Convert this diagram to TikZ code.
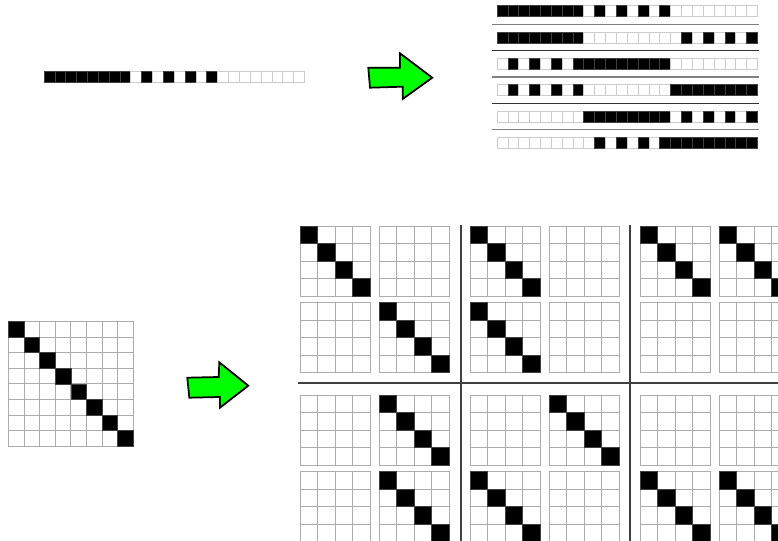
\documentclass[tikz,border=0pt]{standalone}
\usepackage{tikz}

\tikzset{
  bitcell/.style={draw=gray!40, line width=0.5pt},
  gridcell/.style={draw=gray!65, line width=0.7pt},
  blackcell/.style={fill=black, draw=black!75, line width=0.5pt},
  bigarrow/.style={fill=green, draw=black, line width=1.3pt, line join=miter},
  sepline/.style={draw=black!75, line width=0.8pt},
}

% one bar of 24 bits, three blocks: 0 = all set, 1 = every other bit, 2 = none
\newcommand{\bitbar}[5]{%
  \foreach \k/\code in {0/#3,1/#4,2/#5}{%
    \foreach \i in {0,...,7}{%
      \pgfmathtruncatemacro{\on}{(\code==0)||((\code==1)&&isodd(\i))}%
      \ifnum\on=1
        \filldraw[blackcell] ({#1+(8*\k+\i)*10.85},#2) rectangle ++(10.85,11);
      \else
        \draw[bitcell] ({#1+(8*\k+\i)*10.85},#2) rectangle ++(10.85,11);
      \fi
    }%
  }%
}

% n x n grid, identity (#5=1) or zero (#5=0)
\newcommand{\idmat}[5]{%
  \foreach \row in {1,...,#3}{\foreach \col in {1,...,#3}{%
    \draw[gridcell] ({#1+(\col-1)*#4},{#2+(\row-1)*#4}) rectangle ++(#4,#4);}}%
  \ifnum#5=1
    \foreach \dd in {1,...,#3}{%
      \filldraw[blackcell] ({#1+(\dd-1)*#4},{#2+(\dd-1)*#4}) rectangle ++(#4,#4);}%
  \fi
}

% 2 x 2 block matrix of 4 x 4 blocks
\newcommand{\blockgroup}[6]{%
  \idmat{#1}{#2}{4}{17.5}{#3}
  \idmat{#1+79.3}{#2}{4}{17.5}{#4}
  \idmat{#1}{#2+76.5}{4}{17.5}{#5}
  \idmat{#1+79.3}{#2+76.5}{4}{17.5}{#6}
}

\begin{document}
\begin{tikzpicture}[x=0.75pt,y=-0.75pt]
  \useasboundingbox (0,0) rectangle (778,541);
  \clip (0,0) rectangle (778,541);

  \bitbar{44}{71}{0}{1}{2}
  \draw[bigarrow] (368.3,67.7) -- (400,67.7) -- (400,53.3) -- (432.3,77.7)
    -- (402.7,99) -- (402.7,86.7) -- (370,87.7) -- cycle;

  \foreach \r/\a/\b/\c in {0/0/1/2,1/0/2/1,2/1/0/2,3/1/2/0,4/2/0/1,5/2/1/0}
  {
    \bitbar{497}{5.5+26.4*\r}{\a}{\b}{\c}
  }
  \foreach \k in {0,...,4}
  {
    \pgfmathtruncatemacro{\shade}{isodd(\k) ? 80 : 50}
    \draw[draw=black!\shade, line width=0.9pt] (492,{24.2+26.4*\k}) -- (759,{24.2+26.4*\k});
  }

  \idmat{8.5}{321.5}{8}{15.6}{1}
  \draw[bigarrow] (187.3,377.7) -- (218.7,377) -- (219.3,362.3) -- (248.3,385.7)
    -- (220,407.7) -- (220,397) -- (189.3,397.7) -- cycle;

  \blockgroup{300}{226}{1}{0}{0}{1}
  \blockgroup{470}{226}{1}{0}{1}{0}
  \blockgroup{640}{226}{1}{1}{0}{0}
  \blockgroup{300}{395}{0}{1}{0}{1}
  \blockgroup{470}{395}{0}{1}{1}{0}
  \blockgroup{640}{395}{0}{0}{1}{1}

  \draw[sepline] (461,225) -- (461,541);
  \draw[sepline] (630,225) -- (630,541);
  \draw[sepline] (298,383) -- (778,383);
\end{tikzpicture}
\end{document}
